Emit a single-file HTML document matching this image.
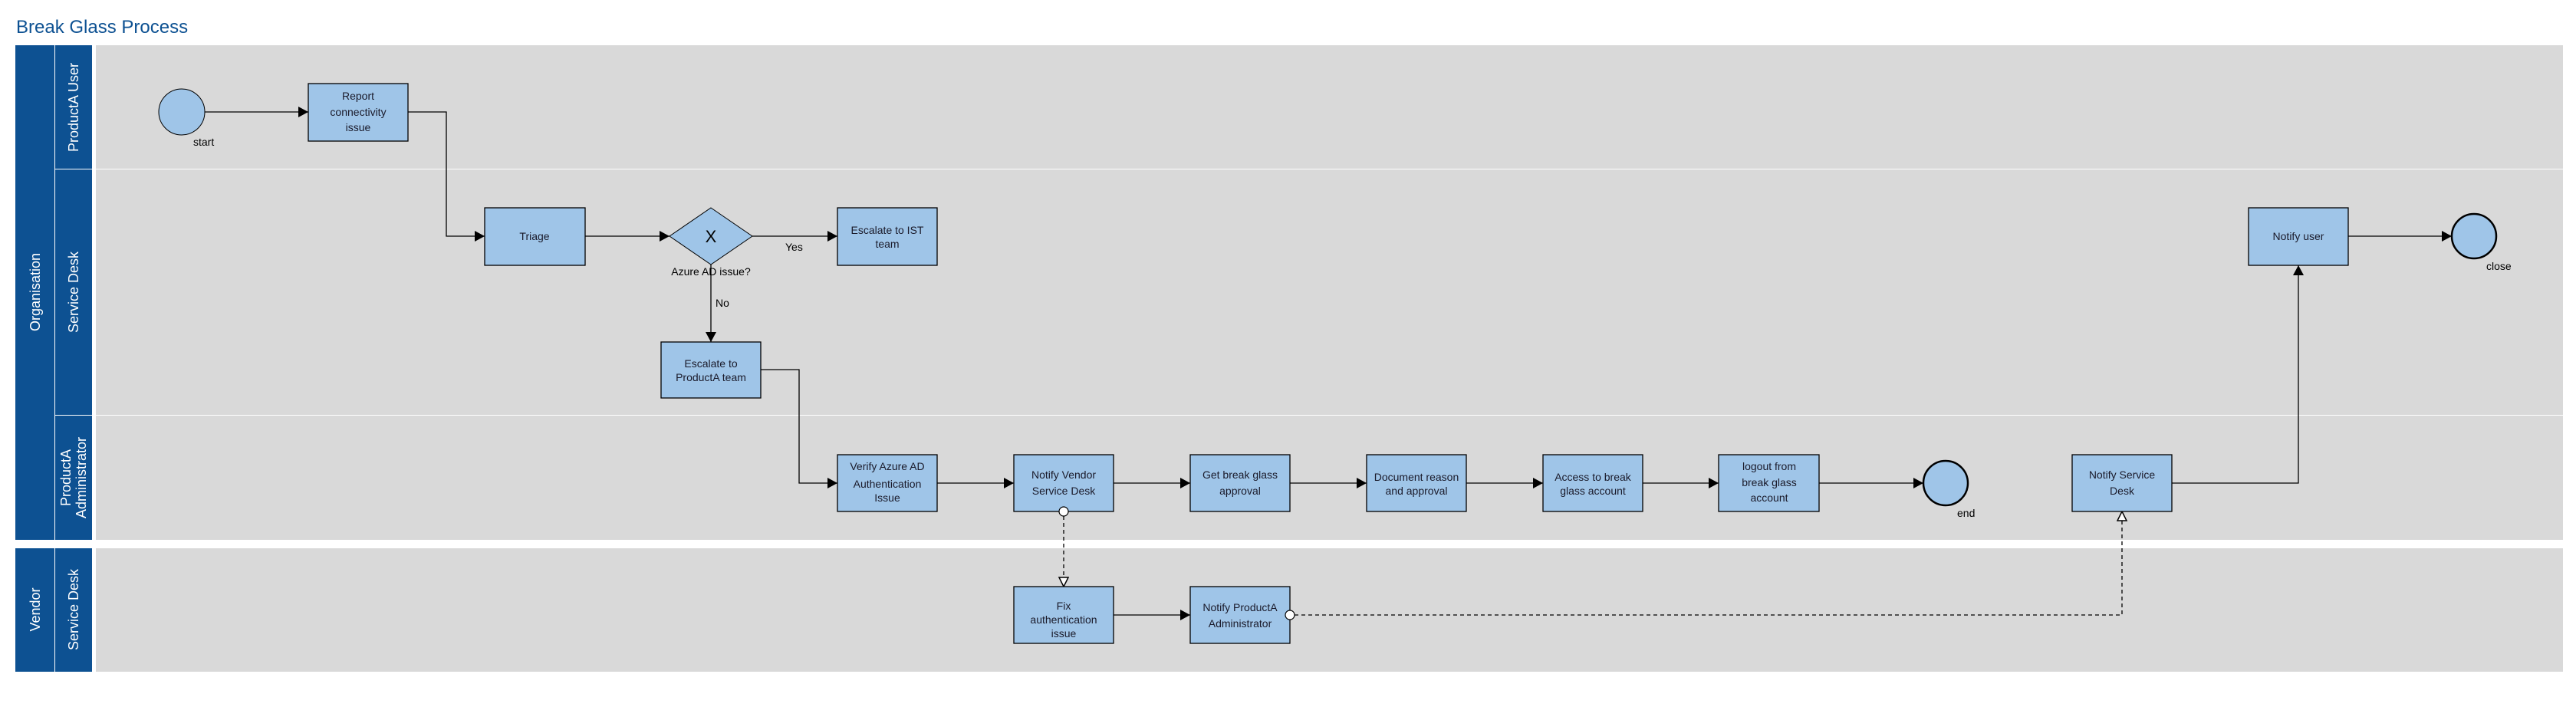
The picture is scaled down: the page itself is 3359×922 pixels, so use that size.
<!DOCTYPE html>
<html><head><meta charset="utf-8"><style>
html,body{margin:0;padding:0;background:#fff;}
svg text{font-family:"Liberation Sans",sans-serif;}
</style></head><body>
<svg width="3359" height="917" viewBox="0 0 3359 917" xmlns="http://www.w3.org/2000/svg">
<defs>
<marker id="a" markerWidth="14" markerHeight="14" refX="13" refY="7" orient="auto" markerUnits="userSpaceOnUse"><path d="M0,0 L13,7 L0,14 Z" fill="#000"/></marker>
<marker id="o" markerWidth="16" markerHeight="16" refX="13" refY="7" orient="auto" markerUnits="userSpaceOnUse"><path d="M1,1 L13,7 L1,13 Z" fill="#fff" stroke="#000" stroke-width="1.5"/></marker>
</defs>
<text x="21" y="43" font-size="24" fill="#0d5192">Break Glass Process</text>
<rect x="20" y="59" width="51" height="645" fill="#0d5192"/>
<rect x="72" y="59" width="48" height="161" fill="#0d5192"/>
<rect x="72" y="221" width="48" height="320" fill="#0d5192"/>
<rect x="72" y="542" width="48" height="162" fill="#0d5192"/>
<rect x="125" y="59" width="3217" height="161" fill="#d9d9d9"/>
<rect x="125" y="221" width="3217" height="320" fill="#d9d9d9"/>
<rect x="125" y="542" width="3217" height="162" fill="#d9d9d9"/>
<rect x="20" y="715" width="51" height="161" fill="#0d5192"/>
<rect x="72" y="715" width="48" height="161" fill="#0d5192"/>
<rect x="125" y="715" width="3217" height="161" fill="#d9d9d9"/>
<g fill="#fff" font-size="18" text-anchor="middle">
<text transform="translate(52,381) rotate(-90)">Organisation</text>
<text transform="translate(52,795) rotate(-90)">Vendor</text>
<text transform="translate(102,140) rotate(-90)">ProductA User</text>
<text transform="translate(102,381) rotate(-90)">Service Desk</text>
<text transform="translate(92,623) rotate(-90)">ProductA</text>
<text transform="translate(112,623) rotate(-90)">Administrator</text>
<text transform="translate(102,795) rotate(-90)">Service Desk</text>
</g>
<g stroke="#000" stroke-width="1.3" fill="none">
<path d="M267,146 H402" marker-end="url(#a)"/>
<path d="M532,146 H582 V308 H632" marker-end="url(#a)"/>
<path d="M763,308 H873" marker-end="url(#a)"/>
<path d="M981,308 H1092" marker-end="url(#a)"/>
<path d="M927,345 V446" marker-end="url(#a)"/>
<path d="M992,482 H1042 V630 H1092" marker-end="url(#a)"/>
<path d="M1222,630 H1322" marker-end="url(#a)"/>
<path d="M1452,630 H1552" marker-end="url(#a)"/>
<path d="M1682,630 H1782" marker-end="url(#a)"/>
<path d="M1912,630 H2012" marker-end="url(#a)"/>
<path d="M2142,630 H2241" marker-end="url(#a)"/>
<path d="M2372,630 H2508" marker-end="url(#a)"/>
<path d="M1452,802 H1552" marker-end="url(#a)"/>
<path d="M2832,630 H2997 V346" marker-end="url(#a)"/>
<path d="M3062,308 H3197" marker-end="url(#a)"/>
<path d="M1387,673 V765" stroke-dasharray="5,4" marker-end="url(#o)"/>
<path d="M1688,802 H2767 V667" stroke-dasharray="5,4" marker-end="url(#o)"/>
</g>
<circle cx="237" cy="146" r="30" fill="#9fc5e8" stroke="#000" stroke-width="1"/>
<circle cx="2537" cy="630" r="29" fill="#9fc5e8" stroke="#000" stroke-width="2.5"/>
<circle cx="3226" cy="308" r="29" fill="#9fc5e8" stroke="#000" stroke-width="2.5"/>
<path d="M927,271 L981,308 L927,345 L873,308 Z" fill="#9fc5e8" stroke="#000" stroke-width="1"/>
<text x="927" y="316" font-size="22" text-anchor="middle" fill="#000">X</text>
<g fill="#9fc5e8" stroke="#000" stroke-width="1.3">
<rect x="402" y="109" width="130" height="75"/>
<rect x="632" y="271" width="131" height="75"/>
<rect x="1092" y="271" width="130" height="75"/>
<rect x="862" y="446" width="130" height="73"/>
<rect x="1092" y="593" width="130" height="74"/>
<rect x="1322" y="593" width="130" height="74"/>
<rect x="1552" y="593" width="130" height="74"/>
<rect x="1782" y="593" width="130" height="74"/>
<rect x="2012" y="593" width="130" height="74"/>
<rect x="2241" y="593" width="131" height="74"/>
<rect x="2702" y="593" width="130" height="74"/>
<rect x="2932" y="271" width="130" height="75"/>
<rect x="1322" y="765" width="130" height="74"/>
<rect x="1552" y="765" width="130" height="74"/>
</g>
<circle cx="1387" cy="667" r="6" fill="#fff" stroke="#000" stroke-width="1.2"/>
<circle cx="1682" cy="802" r="6" fill="#fff" stroke="#000" stroke-width="1.2"/>
<g font-size="14" fill="#1a1a2a" text-anchor="middle">
<text x="467" y="130">Report</text><text x="467" y="151">connectivity</text><text x="467" y="171">issue</text>
<text x="697" y="313">Triage</text>
<text x="1157" y="305">Escalate to IST</text><text x="1157" y="323">team</text>
<text x="927" y="479">Escalate to</text><text x="927" y="497">ProductA team</text>
<text x="1157" y="613">Verify Azure AD</text><text x="1157" y="636">Authentication</text><text x="1157" y="654">Issue</text>
<text x="1387" y="624">Notify Vendor</text><text x="1387" y="645">Service Desk</text>
<text x="1617" y="624">Get break glass</text><text x="1617" y="645">approval</text>
<text x="1847" y="627">Document reason</text><text x="1847" y="645">and approval</text>
<text x="2077" y="627">Access to break</text><text x="2077" y="645">glass account</text>
<text x="2307" y="613">logout from</text><text x="2307" y="634">break glass</text><text x="2307" y="654">account</text>
<text x="2767" y="624">Notify Service</text><text x="2767" y="645">Desk</text>
<text x="2997" y="313">Notify user</text>
<text x="1387" y="795">Fix</text><text x="1387" y="813">authentication</text><text x="1387" y="831">issue</text>
<text x="1617" y="797">Notify ProductA</text><text x="1617" y="818">Administrator</text>
</g>
<g font-size="14" fill="#000">
<text x="252" y="190">start</text>
<text x="2552" y="674">end</text>
<text x="3242" y="352">close</text>
<text x="927" y="359" text-anchor="middle">Azure AD issue?</text>
<text x="1024" y="327">Yes</text>
<text x="933" y="400">No</text>
</g>
</svg>
</body></html>
